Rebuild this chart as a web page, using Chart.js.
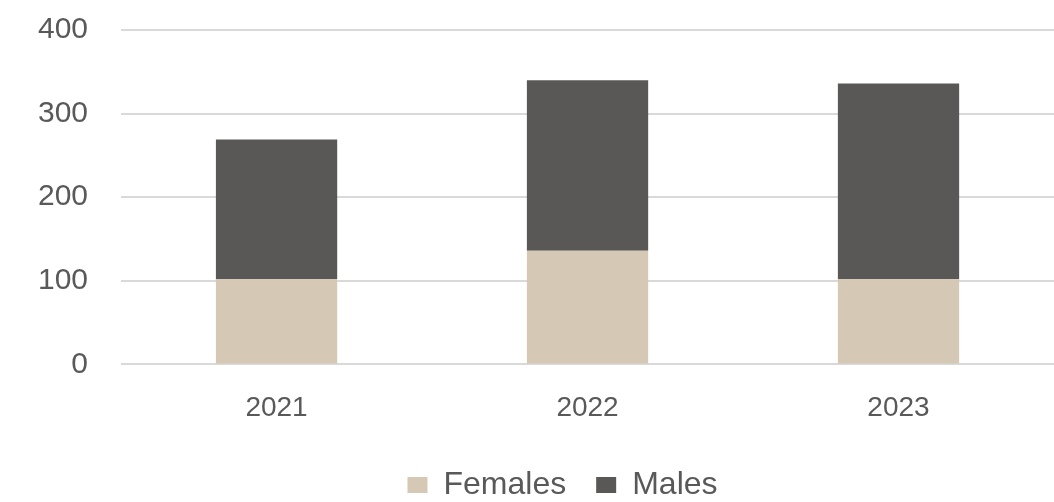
<!DOCTYPE html>
<html>
<head>
<meta charset="utf-8">
<script src="https://cdn.jsdelivr.net/npm/chart.js@4"></script>
<style>
html,body{margin:0;padding:0;background:#fff;}
#wrap{width:1054px;height:502px;}
</style>
</head>
<body>
<div id="wrap"><canvas id="c" width="1054" height="502"></canvas></div>
<script>
const categories = ["2021", "2022", "2023"];
const females = [102, 136, 102];
const males = [167, 204, 234];
const yTicks = [0, 100, 200, 300, 400];

const legendShift = {
  id: 'legendShift',
  afterLayout(chart) { if (chart.legend) { chart.legend.left += 66; } }
};

new Chart(document.getElementById('c'), {
  type: 'bar',
  data: {
    labels: categories,
    datasets: [
      { label: 'Females', data: females, backgroundColor: '#D5C8B5', borderWidth: 0, barPercentage: 0.39, categoryPercentage: 1 },
      { label: 'Males', data: males, backgroundColor: '#595856', borderWidth: 0, barPercentage: 0.39, categoryPercentage: 1 }
    ]
  },
  plugins: [legendShift],
  options: {
    responsive: false,
    animation: false,
    layout: { padding: { left: 5, right: 0, top: 30, bottom: -9 } },
    plugins: {
      tooltip: { enabled: false },
      legend: {
        position: 'bottom',
        labels: {
          boxWidth: 20, boxHeight: 16, padding: 30,
          color: '#595959',
          font: { family: 'Liberation Sans', size: 32 }
        }
      }
    },
    scales: {
      x: {
        stacked: true,
        grid: { display: false, drawTicks: false },
        border: { display: false },
        afterFit: (axis) => { axis.height -= 13; axis.paddingLeft = 0; axis.paddingRight = 0; },
        ticks: { color: '#595959', padding: 27, font: { family: 'Liberation Sans', size: 28 } }
      },
      y: {
        stacked: true,
        min: 0, max: 400,
        afterBuildTicks: (axis) => { axis.ticks = yTicks.map(v => ({ value: v })); },
        afterFit: (axis) => { axis.paddingTop = 0; axis.paddingBottom = 0; },
        grid: { color: '#D9D9D9', lineWidth: 2, drawTicks: false },
        border: { display: false },
        ticks: { color: '#595959', padding: 33, font: { family: 'Liberation Sans', size: 30 } }
      }
    }
  }
});
</script>
</body>
</html>
